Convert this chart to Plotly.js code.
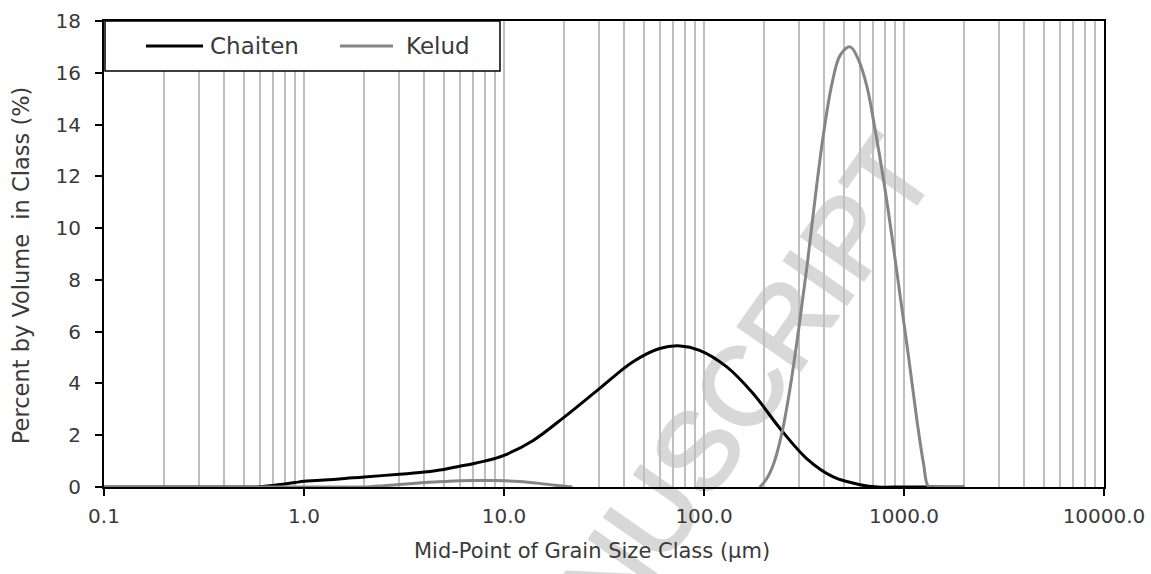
<!DOCTYPE html>
<html>
<head>
<meta charset="utf-8">
<script src="https://cdn.plot.ly/plotly-3.0.1.min.js"></script>
<style>
  html, body { margin: 0; padding: 0; background: #ffffff; }
  #wm { position: absolute; left: 0; top: 0; z-index: 0; }
  #chart { position: absolute; left: 0; top: 0; width: 1151px; height: 574px; z-index: 1; }
</style>
</head>
<body>
<svg id="wm" width="1151" height="574" xmlns="http://www.w3.org/2000/svg">
  <text x="939" y="172" transform="rotate(-55 939 172)" text-anchor="end"
        font-family="Liberation Sans, Arial, sans-serif" font-size="110" fill="#d8d8d8"
        stroke="#d8d8d8" stroke-width="3">MANUSCRIPT</text>
</svg>
<div id="chart"></div>
<script>
// ---- data ----
var chaitenSize = [0.1, 0.2, 0.3, 0.4, 0.5, 0.58, 0.7, 0.8, 0.9, 1.0, 1.5, 2, 3, 4, 5, 6, 7, 8, 9, 10, 14, 20, 30, 44, 60, 76, 95, 130, 176, 240, 326, 443, 603, 740, 1000, 2000];
var chaitenPct  = [0, 0, 0, 0, 0, 0, 0.06, 0.12, 0.17, 0.22, 0.31, 0.39, 0.49, 0.58, 0.68, 0.80, 0.90, 1.0, 1.1, 1.22, 1.8, 2.7, 3.8, 4.83, 5.35, 5.45, 5.28, 4.64, 3.61, 2.26, 1.10, 0.39, 0.09, 0.0, 0, 0];

var keludSize = [0.1, 0.2, 0.5, 1, 1.5, 2, 2.5, 3, 4, 5, 6, 7, 8, 9, 10, 12, 15, 18, 22, 60, 190, 205, 223, 245, 270, 297, 327, 360, 396, 437, 480, 538, 593, 653, 718, 791, 871, 958, 1054, 1160, 1252, 1330, 1500, 2000];
var keludPct  = [0, 0, 0, 0, 0, 0, 0.05, 0.1, 0.17, 0.21, 0.24, 0.25, 0.25, 0.25, 0.24, 0.21, 0.14, 0.07, 0, null, 0, 0.3, 0.9, 2.07, 3.87, 6.06, 8.5, 11.2, 13.65, 15.6, 16.68, 17.0, 16.49, 15.46, 13.78, 11.85, 9.66, 7.35, 5.03, 2.59, 0.91, 0, 0, 0];

var xTickVals = [0.1, 1, 10, 100, 1000, 10000];
var xTickText = ['0.1', '1.0', '10.0', '100.0', '1000.0', '10000.0'];
var yTickVals = [0, 2, 4, 6, 8, 10, 12, 14, 16, 18];
var seriesNames = ['Chaiten', 'Kelud'];
var seriesColors = ['#000000', '#858585'];
var xTitle = 'Mid-Point of Grain Size Class (µm)';
var yTitle = 'Percent by Volume  in Class (%)';

// minor grid positions (2..9 x decade)
var minorVals = [];
for (var e = -1; e < 4; e++) {
  for (var m = 2; m <= 9; m++) minorVals.push(m * Math.pow(10, e));
}

var FONT = 'DejaVu Sans, sans-serif';
var TXT = '#3a3a3a';

var traces = [
  { x: chaitenSize, y: chaitenPct, name: seriesNames[0], type: 'scatter', mode: 'lines',
    line: { color: seriesColors[0], width: 3, shape: 'spline', smoothing: 1.0 }, showlegend: false },
  { x: keludSize, y: keludPct, name: seriesNames[1], type: 'scatter', mode: 'lines',
    line: { color: seriesColors[1], width: 3, shape: 'spline', smoothing: 1.0 }, showlegend: false }
];

// hand-built legend box (matches reference proportions)
var lgTop = 1.0, lgBot = 0.8927, lgMid = 0.9464;
var shapes = [
  { type: 'rect', xref: 'paper', yref: 'paper', x0: 0.001, x1: 0.396, y0: lgBot, y1: lgTop,
    fillcolor: '#ffffff', line: { color: '#000000', width: 1.5 }, layer: 'above' },
  { type: 'line', xref: 'paper', yref: 'paper', x0: 0.042, x1: 0.099, y0: lgMid, y1: lgMid,
    line: { color: seriesColors[0], width: 3 }, layer: 'above' },
  { type: 'line', xref: 'paper', yref: 'paper', x0: 0.236, x1: 0.289, y0: lgMid, y1: lgMid,
    line: { color: seriesColors[1], width: 3 }, layer: 'above' }
];
var annotations = [
  { xref: 'paper', yref: 'paper', x: 0.104, y: lgMid, xanchor: 'left', yanchor: 'middle',
    text: seriesNames[0], showarrow: false, font: { family: FONT, size: 23, color: TXT } },
  { xref: 'paper', yref: 'paper', x: 0.300, y: lgMid, xanchor: 'left', yanchor: 'middle',
    text: seriesNames[1], showarrow: false, font: { family: FONT, size: 23, color: TXT } },
  // axis titles, placed where the reference has them
  { xref: 'paper', yref: 'paper', x: 0.488, y: -0.1375, xanchor: 'center', yanchor: 'middle',
    text: xTitle, showarrow: false, font: { family: FONT, size: 21, color: TXT } },
  { xref: 'paper', yref: 'paper', x: -0.083, y: 0.476, xanchor: 'center', yanchor: 'middle',
    text: yTitle, textangle: -90, showarrow: false, font: { family: FONT, size: 22.5, color: TXT } }
];

var layout = {
  width: 1151, height: 574,
  margin: { l: 104, r: 47, t: 21, b: 87 },
  paper_bgcolor: 'rgba(0,0,0,0)',
  plot_bgcolor: 'rgba(0,0,0,0)',
  font: { family: FONT, color: TXT },
  showlegend: false,
  xaxis: {
    type: 'log', range: [-1, 4], autorange: false,
    tickvals: xTickVals, ticktext: xTickText,
    ticks: 'outside', ticklen: 7, tickwidth: 2, tickcolor: '#000',
    showline: true, linecolor: '#000', linewidth: 2, mirror: true,
    showgrid: true, gridcolor: '#bfbfbf', gridwidth: 2,
    minor: { tickvals: minorVals, showgrid: true, gridcolor: '#bfbfbf', gridwidth: 2, ticks: '' },
    zeroline: false, layer: 'below traces',
    tickfont: { family: FONT, size: 20, color: TXT },
    ticklabelstandoff: 3,
    automargin: false
  },
  yaxis: {
    range: [0, 18], autorange: false,
    tickvals: yTickVals,
    ticks: 'outside', ticklen: 7, tickwidth: 2, tickcolor: '#000',
    showline: true, linecolor: '#000', linewidth: 2, mirror: true,
    showgrid: false, zeroline: false, layer: 'below traces',
    tickfont: { family: FONT, size: 20, color: TXT },
    ticklabelstandoff: 10,
    automargin: false
  },
  shapes: shapes,
  annotations: annotations
};

Plotly.newPlot('chart', traces, layout, { displayModeBar: false, staticPlot: true });
</script>
</body>
</html>
